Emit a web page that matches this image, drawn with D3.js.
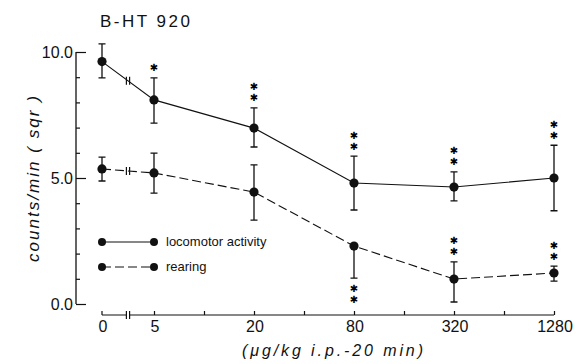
<!DOCTYPE html>
<html><head><meta charset="utf-8">
<script src="https://cdn.jsdelivr.net/npm/d3@7"></script>
<style>
html,body{margin:0;padding:0;background:#fff;}
svg{display:block;font-family:"Liberation Sans",Arial,sans-serif;}
</style></head>
<body><svg id="c" width="587" height="364"></svg>
<script>
// ---- data ----
const doses = [0, 5, 20, 80, 320, 1280];
const doseLabels = ["0", "5", "20", "80", "320", "1280"];
const minorDoses = [10, 40, 160, 640];
const locomotor = [9.62, 8.1, 6.98, 4.8, 4.64, 5.0];
const locomotorUpper = [10.32, 8.97, 7.78, 5.87, 5.24, 6.3];
const locomotorLower = [8.97, 7.18, 6.23, 3.73, 4.09, 3.7];
const rearing = [5.36, 5.2, 4.44, 2.3, 0.99, 1.23];
const rearingUpper = [5.83, 5.99, 5.52, 2.3, 1.67, 1.5];
const rearingLower = [4.88, 4.4, 3.33, 1.03, 0.08, 0.91];
const locomotorStars = [0, 1, 2, 2, 2, 2];
const rearingStars = [0, 0, 0, 2, 2, 2];
const rearingStarSide = ["above", "above", "above", "below", "above", "above"];
const yMajorTicks = [0, 5, 10];
const yMinorTicks = [1, 2, 3, 4, 6, 7, 8, 9];
const yTickLabels = ["0.0", "5.0", "10.0"];
const legendLabels = ["locomotor activity", "rearing"];

// ---- scales ----
const svg = d3.select("#c");
const ink = "#111";
const y = d3.scaleLinear().domain([0, 10]).range([304, 52]);
const xLog = d3.scaleLog().domain([5, 1280]).range([154, 554]);
const xBreak = d3.scaleLinear().domain([0, 5]).range([102, 154]);
const x = d => d < 5 ? xBreak(d) : xLog(d);
const breakDose = 2.5;
const axisY = 315, axisX = 76;

// ---- title ----
svg.append("text").attr("x", 100).attr("y", 27).attr("font-size", 17)
  .attr("textLength", 90).attr("lengthAdjust", "spacing").attr("fill", ink).text("B-HT 920");

// ---- y axis ----
svg.append("g").attr("transform", `translate(${axisX},0)`)
  .call(d3.axisRight(y).tickValues(yMinorTicks).tickSize(4).tickSizeOuter(0).tickFormat(""))
  .call(g => g.select(".domain").remove())
  .call(g => g.selectAll("line").attr("stroke", ink).attr("stroke-width", 1.2));
svg.append("g").attr("transform", `translate(${axisX},0)`)
  .call(d3.axisRight(y).tickValues(yMajorTicks).tickSize(10).tickSizeOuter(0).tickFormat(""))
  .call(g => g.select(".domain").attr("d", `M0,${y(0)}V${y(10)}`).attr("stroke", ink).attr("stroke-width", 1.3))
  .call(g => g.selectAll("line").attr("stroke", ink).attr("stroke-width", 1.2));
svg.append("g").selectAll("text").data(yMajorTicks).join("text")
  .attr("x", 73).attr("y", d => y(d) + 6).attr("text-anchor", "end")
  .attr("font-size", 16).attr("fill", ink).text((d, i) => yTickLabels[i]);

svg.append("text").attr("transform", `translate(39,${179}) rotate(-90)`)
  .attr("text-anchor", "middle").attr("font-size", 17).attr("font-style", "italic")
  .attr("textLength", 166).attr("lengthAdjust", "spacing").attr("fill", ink)
  .text("counts/min ( sqr )");

// ---- x axis ----
const xg = svg.append("g").attr("transform", `translate(0,${axisY})`);
xg.call(d3.axisTop(xLog).tickValues(doses.slice(1).concat(minorDoses)).tickSize(4).tickSizeOuter(0).tickFormat(""))
  .call(g => g.select(".domain").attr("d", `M${x(breakDose) + 2},0H${xLog(1280)}`).attr("stroke", ink).attr("stroke-width", 1.2))
  .call(g => g.selectAll("line").attr("stroke", ink).attr("stroke-width", 1.2));
xg.append("path").attr("d", `M${x(0)},0H${x(breakDose) - 2}M${x(0)},0V-4`).attr("stroke", ink).attr("stroke-width", 1.2).attr("fill", "none");
[-1.6, 1.6].forEach(o => xg.append("line").attr("x1", x(breakDose) + o).attr("x2", x(breakDose) + o)
  .attr("y1", -4).attr("y2", 4).attr("stroke", ink).attr("stroke-width", 1.2));
svg.append("g").selectAll("text").data(doses).join("text")
  .attr("x", d => x(d) + 1).attr("y", 332).attr("text-anchor", "middle")
  .attr("font-size", 16).attr("fill", ink).text((d, i) => doseLabels[i]);
svg.append("text").attr("x", 242).attr("y", 356).attr("font-size", 16).attr("font-style", "italic")
  .attr("textLength", 181).attr("lengthAdjust", "spacing").attr("fill", ink)
  .text("(μg/kg i.p.-20 min)");

// ---- series ----
function drawSeries(vals, up, lo, dash, stars, sides) {
  const pts = doses.map((d, i) => ({d, v: vals[i], u: up[i], l: lo[i], s: stars[i], side: sides ? sides[i] : "above"}));
  const line = d3.line().x(p => x(p.d)).y(p => y(p.v));
  svg.append("path").datum(pts).attr("d", line).attr("fill", "none")
    .attr("stroke", ink).attr("stroke-width", 1.1).attr("stroke-dasharray", dash);
  // break marks on line between 0 and 5
  const by = (y(vals[0]) + y(vals[1])) / 2;
  [-1.6, 1.6].forEach(o => svg.append("line").attr("x1", x(breakDose) + o).attr("x2", x(breakDose) + o)
    .attr("y1", by - 4).attr("y2", by + 4).attr("stroke", ink).attr("stroke-width", 1.2));
  const g = svg.append("g");
  g.selectAll(".eb").data(pts).join("path").attr("class", "eb")
    .attr("d", p => `M${x(p.d)},${y(p.u)}V${y(p.l)}` +
      (p.u > p.v ? `M${x(p.d) - 3.5},${y(p.u)}H${x(p.d) + 3.5}` : "") +
      `M${x(p.d) - 3.5},${y(p.l)}H${x(p.d) + 3.5}`)
    .attr("stroke", ink).attr("stroke-width", 1.3).attr("fill", "none");
  g.selectAll("circle").data(pts).join("circle")
    .attr("cx", p => x(p.d)).attr("cy", p => y(p.v)).attr("r", 4.6).attr("fill", ink);
  // significance stars, each a small text
  pts.filter(p => p.s > 0).forEach(p => {
    for (let k = 0; k < p.s; k++) {
      const cy = p.side === "above" ? y(p.u) - 10 - 11 * k : y(p.l) + 10 + 11 * k;
      g.append("text").attr("x", x(p.d)).attr("y", cy).attr("text-anchor", "middle")
        .attr("dominant-baseline", "central")
        .style("font-family", "'DejaVu Sans', sans-serif").attr("font-size", 10)
        .attr("fill", "#000").text("✱");
    }
  });
}
drawSeries(locomotor, locomotorUpper, locomotorLower, null, locomotorStars, null);
drawSeries(rearing, rearingUpper, rearingLower, "9,4", rearingStars, rearingStarSide);

// ---- legend ----
const legY = [242, 267];
const legDash = [null, "9,4"];
legendLabels.forEach((lab, i) => {
  const lg = svg.append("g");
  lg.append("line").attr("x1", x(0)).attr("x2", x(5)).attr("y1", legY[i]).attr("y2", legY[i])
    .attr("stroke", ink).attr("stroke-width", 1.1).attr("stroke-dasharray", legDash[i]);
  [x(0), x(5)].forEach(cx => lg.append("circle").attr("cx", cx).attr("cy", legY[i]).attr("r", 4).attr("fill", ink));
  lg.append("text").attr("x", 166).attr("y", legY[i] + 4).attr("font-size", 13).attr("fill", ink).text(lab);
});
</script></body></html>
